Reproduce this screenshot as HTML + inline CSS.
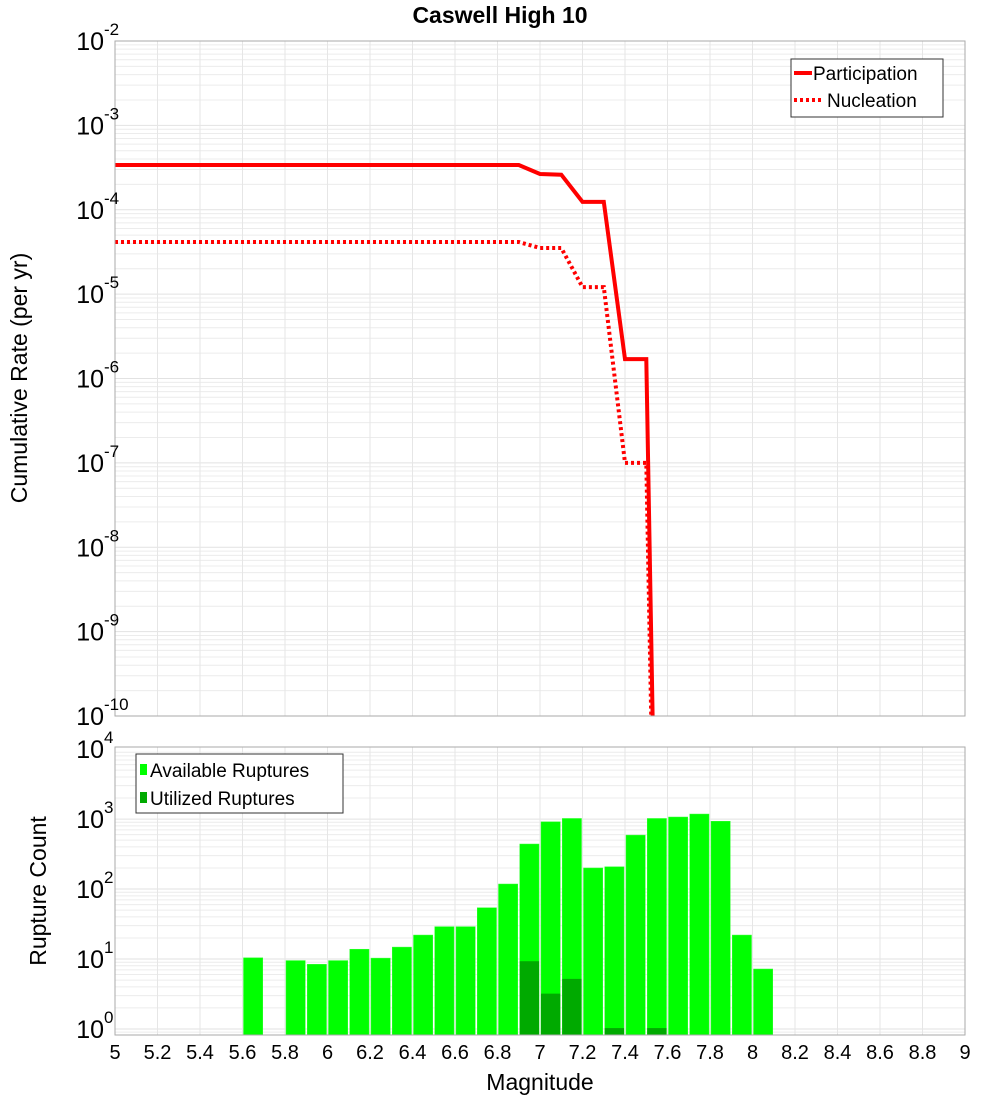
<!DOCTYPE html>
<html><head><meta charset="utf-8">
<style>
body{margin:0;background:#fff;}
svg text{font-family:"Liberation Sans","DejaVu Sans",sans-serif;}
</style></head>
<body>
<svg id="c" width="1000" height="1100" xmlns="http://www.w3.org/2000/svg">
<text x="500" y="23" text-anchor="middle" font-size="23" font-weight="bold">Caswell High 10</text>
<text transform="translate(27,378) rotate(-90)" text-anchor="middle" font-size="23">Cumulative Rate (per yr)</text>
<text transform="translate(46,891) rotate(-90)" text-anchor="middle" font-size="23">Rupture Count</text>
<text x="540" y="1090" text-anchor="middle" font-size="23">Magnitude</text>
<g id="gtop"></g><g id="gbot"></g>
</svg>
<script>
const mags = [5.0,6.9,7.0,7.1,7.2,7.3,7.4,7.5,7.6];
const participation = [3.39e-4,3.39e-4,2.65e-4,2.6e-4,1.24e-4,1.24e-4,1.7e-6,1.7e-6,1e-20];
const nucleation = [4.15e-5,4.15e-5,3.52e-5,3.52e-5,1.21e-5,1.21e-5,1.0e-7,1.0e-7,1e-20];
const binStarts = [5.6,5.8,5.9,6.0,6.1,6.2,6.3,6.4,6.5,6.6,6.7,6.8,6.9,7.0,7.1,7.2,7.3,7.4,7.5,7.6,7.7,7.8,7.9,8.0];
const available = [10.4,9.5,8.4,9.5,13.8,10.3,14.8,22,29,29,54,118,440,914,1020,200,208,590,1020,1070,1180,930,22,7.2];
const utilBins = [6.9,7.0,7.1,7.3,7.5];
const utilized = [9.3,3.2,5.2,1.03,1.03];
const xTicks = [5,5.2,5.4,5.6,5.8,6,6.2,6.4,6.6,6.8,7,7.2,7.4,7.6,7.8,8,8.2,8.4,8.6,8.8,9];
const topExps = [-2,-3,-4,-5,-6,-7,-8,-9,-10];
const botExps = [4,3,2,1,0];

const NS="http://www.w3.org/2000/svg";
const L=115,R=965;
const X=m=>L+(m-5)*(R-L)/4;
const TT=41,TB=716;
const YT=v=>TT+(-2-Math.log10(v))*(TB-TT)/8;
const BT=747,BB=1035,bmin=-0.086,bmax=4.03;
const YB=v=>BB-(Math.log10(v)-bmin)*(BB-BT)/(bmax-bmin);
function mk(p,tag,a){const e=document.createElementNS(NS,tag);for(const k in a)e.setAttribute(k,a[k]);p.appendChild(e);return e;}
const gTop=document.getElementById('gtop'),gBot=document.getElementById('gbot');

const defs=mk(document.getElementById('c'),'defs',{});
const cp=mk(defs,'clipPath',{id:'ct'});mk(cp,'rect',{x:L,y:TT,width:R-L,height:TB-TT});
const cp2=mk(defs,'clipPath',{id:'cb'});mk(cp2,'rect',{x:L,y:BT,width:R-L,height:BB-BT});

function grid(g,y0,y1,yf,lo,hi){
  for(let d=lo;d<hi;d++)for(let k=1;k<10;k++){const y=yf(k*Math.pow(10,d));if(y<y0-0.5||y>y1+0.5)continue;
    const l=mk(g,'line',{x1:L,x2:R,y1:y,y2:y,stroke:k==1?'#e2e2e2':'#ececec','stroke-width':1});
    
    }
  xTicks.forEach(t=>{const l=mk(g,'line',{x1:X(t),x2:X(t),y1:y0,y2:y1,stroke:'#e6e6e6','stroke-width':1});
    
    });
}
grid(gTop,TT,TB,YT,-10,-2);
grid(gBot,BT,BB,YB,-1,4);

function line(arr,dash,name){
  const d=arr.map((v,i)=>(i?'L':'M')+X(mags[i]).toFixed(1)+','+YT(v).toFixed(1)).join('');
  const p=mk(gTop,'path',{d:d,fill:'none',stroke:'#ff0000','stroke-width':4,'clip-path':'url(#ct)','stroke-dasharray':dash||'none'});
  
  
}
line(participation,null,'participation-line');
line(nucleation,'3,3','nucleation-line');

const bw=(R-L)/40;
binStarts.forEach((m,i)=>{const y=YB(available[i]);
  const r=mk(gBot,'rect',{x:X(m)+1,y:y,width:bw-2,height:BB-y,fill:'#00ff00',stroke:'#33ff33','stroke-width':0.5,'clip-path':'url(#cb)'});
  
  });
utilBins.forEach((m,i)=>{const y=YB(utilized[i]);
  const r=mk(gBot,'rect',{x:X(m)+1,y:y,width:bw-2,height:BB-y,fill:'#00aa00','clip-path':'url(#cb)'});
  
  });

const f1=mk(gTop,'rect',{x:L,y:TT,width:R-L,height:TB-TT,fill:'none',stroke:'#aaaaaa'});


const f2=mk(gBot,'rect',{x:L,y:BT,width:R-L,height:BB-BT,fill:'none',stroke:'#aaaaaa'});



function ylab(g,y,e,name){const t=mk(g,'text',{x:104,y:y+9,'text-anchor':'end','font-size':25});
  t.textContent='10';
  
  
  const s=mk(g,'text',{x:104,y:y-6,'font-size':17});s.textContent=String(e);
  
  }
topExps.forEach(e=>ylab(gTop,YT(Math.pow(10,e)),e,'top-y-tick-label'));
botExps.forEach(e=>ylab(gBot,e==4?749:YB(Math.pow(10,e)),e,'bottom-y-tick-label'));
xTicks.forEach(t=>{const s=mk(gBot,'text',{x:X(t),y:1059,'text-anchor':'middle','font-size':20});
  s.textContent=String(t);
  
  });

const lg=mk(gTop,'g',{});


mk(lg,'rect',{x:791,y:59,width:152,height:58,fill:'#fff',stroke:'#333'});
mk(lg,'line',{x1:794,x2:812,y1:73,y2:73,stroke:'#f00','stroke-width':4});
mk(lg,'line',{x1:794,x2:822,y1:100,y2:100,stroke:'#f00','stroke-width':4,'stroke-dasharray':'3,3'});
let t=mk(lg,'text',{x:813,y:80,'font-size':19});t.textContent='Participation';


t=mk(lg,'text',{x:827,y:107,'font-size':19});t.textContent='Nucleation';


const lb=mk(gBot,'g',{});


mk(lb,'rect',{x:136,y:754,width:207,height:59,fill:'#fff',stroke:'#333'});
mk(lb,'rect',{x:140,y:764,width:7,height:11,fill:'#00ff00'});
mk(lb,'rect',{x:140,y:792,width:7,height:11,fill:'#00aa00'});
t=mk(lb,'text',{x:150,y:777,'font-size':19});t.textContent='Available Ruptures';


t=mk(lb,'text',{x:150,y:805,'font-size':19});t.textContent='Utilized Ruptures';


</script>
</body></html>
